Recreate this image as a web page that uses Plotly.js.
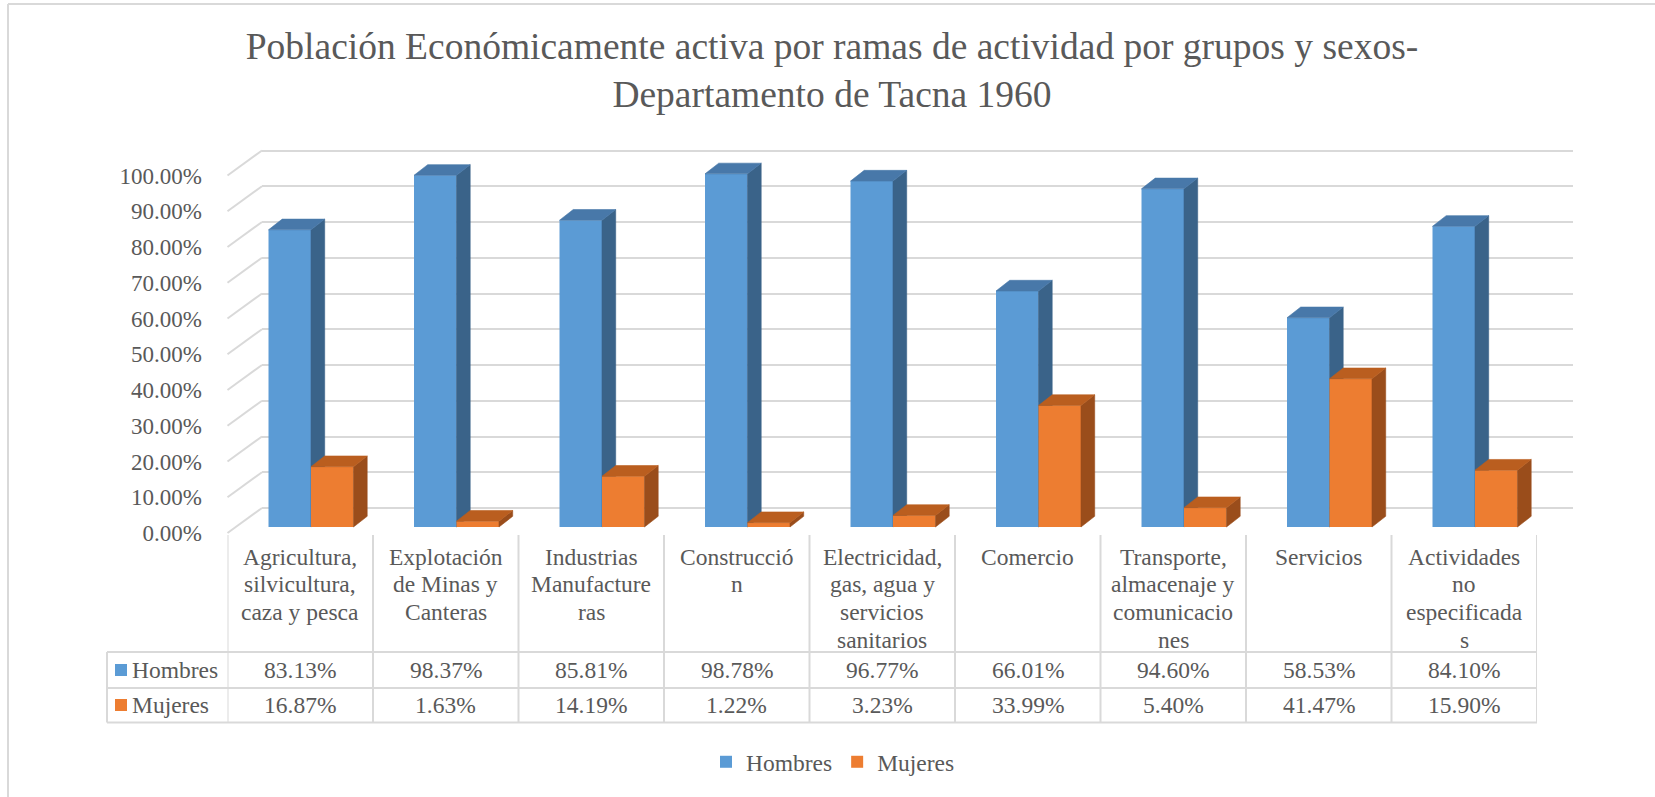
<!DOCTYPE html>
<html>
<head>
<meta charset="utf-8">
<script src="https://cdn.plot.ly/plotly-3.0.1.min.js"></script>
<style>
  html, body { margin: 0; padding: 0; background: #ffffff; }
  #chart { width: 1655px; height: 797px; }
</style>
</head>
<body>
<div id="chart"></div>
<script>
// ---------------- data ----------------
const categoryLines = [
  ["Agricultura,", "silvicultura,", "caza y pesca"],
  ["Explotación", "de Minas y", "Canteras"],
  ["Industrias", "Manufacture", "ras"],
  ["Construcció", "n"],
  ["Electricidad,", "gas, agua y", "servicios", "sanitarios"],
  ["Comercio"],
  ["Transporte,", "almacenaje y", "comunicacio", "nes"],
  ["Servicios"],
  ["Actividades", "no", "especificada", "s"]
];
const hombres = [83.13, 98.37, 85.81, 98.78, 96.77, 66.01, 94.60, 58.53, 84.10];
const mujeres = [16.87, 1.63, 14.19, 1.22, 3.23, 33.99, 5.40, 41.47, 15.90];
const seriesNames = ["Hombres", "Mujeres"];
const tickValues = [0, 10, 20, 30, 40, 50, 60, 70, 80, 90, 100];
const tickLabels = ["0.00%", "10.00%", "20.00%", "30.00%", "40.00%", "50.00%",
                    "60.00%", "70.00%", "80.00%", "90.00%", "100.00%"];
const titleLines = ["Población Económicamente activa por ramas de actividad por grupos y sexos-",
                    "Departamento de Tacna 1960"];

// ---------------- styling / geometry ----------------
const W = 1655, H = 797;
const FONT = "Liberation Serif";
const TXT = "#595959";
const GRID = "#d9d9d9";
const BLUE = "#5b9bd5", BLUE_TOP = "#4878a9", BLUE_SIDE = "#3a6389";
const ORANGE = "#ed7d31", ORANGE_TOP = "#ba5e1f", ORANGE_SIDE = "#9a4d1b";
const FS = 23.5;

const K = 3.575;           // px per percentage point
const C = 145.5;           // px per category
const yBar0 = 527, yWall0 = 508, yFront0 = 533;
const xBar0 = 311;         // pixel of category 0 (pair center)
const xFront = 227.5, xWall = 262, xWallEnd = 1573;
const tableRight = 1537;
const barW = 0.292;
const depthX = 13.7 / C, depthY = 10.7 / K;

const px2x = p => p / W;
const px2y = p => 1 - p / H;

const idx = hombres.map((_, i) => i);

// bar axes range/domain
const bxr = [-0.7, 8.9];
const byr = [-2, 110];
const bxDom = [px2x(xBar0 + C * bxr[0]), px2x(xBar0 + C * bxr[1])];
const byDom = [px2y(yBar0 - K * byr[0]), px2y(yBar0 - K * byr[1])];

// wall grid axis
const gyr = [-1, 101];
const gyDom = [px2y(yWall0 - K * gyr[0]), px2y(yWall0 - K * gyr[1])];
// front plane axis (tick labels)
const fyDom = [px2y(yFront0 - K * gyr[0]), px2y(yFront0 - K * gyr[1])];

function faces(values, left, right) {
  const top = {x: [], y: []}, side = {x: [], y: []};
  values.forEach((v, i) => {
    const xl = i + left, xr = i + right;
    top.x.push(xl, xr, xr + depthX, xl + depthX, xl, null);
    top.y.push(v, v, v + depthY, v + depthY, v, null);
    side.x.push(xr, xr, xr + depthX, xr + depthX, xr, null);
    side.y.push(0, v, v + depthY, depthY, 0, null);
  });
  return {top, side};
}
const fH = faces(hombres, -barW, 0);
const fM = faces(mujeres, 0, barW);

function faceTrace(f, color, xa, ya) {
  return {type: "scatter", mode: "lines", x: f.x, y: f.y, fill: "toself",
          fillcolor: color, line: {color: color, width: 0.6},
          xaxis: xa, yaxis: ya, hoverinfo: "skip", showlegend: false};
}

const traces = [
  // grid subplot dummy
  {type: "scatter", x: [0.5], y: [50], mode: "markers", marker: {opacity: 0},
   xaxis: "x", yaxis: "y", hoverinfo: "skip", showlegend: false},
  // Hombres
  {type: "bar", name: seriesNames[0], x: idx, y: hombres, width: barW, offset: -barW,
   marker: {color: BLUE, line: {width: 0}}, xaxis: "x2", yaxis: "y2",
   hovertemplate: "%{y:.2f}%<extra>Hombres</extra>"},
  faceTrace(fH.side, BLUE_SIDE, "x2", "y2"),
  faceTrace(fH.top, BLUE_TOP, "x2", "y2"),
  // labels subplot dummy
  {type: "scatter", x: [0], y: [0], mode: "markers", marker: {opacity: 0},
   xaxis: "x3", yaxis: "y3", hoverinfo: "skip", showlegend: false},
  // Mujeres
  {type: "bar", name: seriesNames[1], x: idx, y: mujeres, width: barW, offset: 0,
   marker: {color: ORANGE, line: {width: 0}}, xaxis: "x4", yaxis: "y4",
   hovertemplate: "%{y:.2f}%<extra>Mujeres</extra>"},
  faceTrace(fM.side, ORANGE_SIDE, "x4", "y4"),
  faceTrace(fM.top, ORANGE_TOP, "x4", "y4")
];

// ---------------- shapes ----------------
const shapes = [];
// outer border (top & left visible)
shapes.push({type: "line", xref: "paper", yref: "paper", x0: px2x(8), x1: 1, y0: px2y(4), y1: px2y(4),
             line: {color: GRID, width: 2}});
shapes.push({type: "line", xref: "paper", yref: "paper", x0: px2x(8), x1: px2x(8), y0: px2y(4), y1: 0,
             line: {color: GRID, width: 2}});
// side-wall diagonals
tickValues.forEach(v => {
  shapes.push({type: "line", xref: "paper", yref: "paper",
               x0: px2x(xFront), y0: px2y(yFront0 - K * v),
               x1: px2x(xWall), y1: px2y(yWall0 - K * v),
               line: {color: GRID, width: 2}});
});
// table grid
const rowTop = 652, rowMid = 688, rowBot = 722.5, colTop = 535, tableLeft = 107;
[rowTop, rowMid, rowBot].forEach(y => {
  shapes.push({type: "line", xref: "paper", yref: "paper", x0: px2x(tableLeft), x1: px2x(tableRight),
               y0: px2y(y), y1: px2y(y), line: {color: GRID, width: 2}});
});
shapes.push({type: "line", xref: "paper", yref: "paper", x0: px2x(tableLeft), x1: px2x(tableLeft),
             y0: px2y(rowTop), y1: px2y(rowBot), line: {color: GRID, width: 2}});
for (let k = 0; k <= categoryLines.length; k++) {
  shapes.push({type: "line", xref: "x3", yref: "paper", x0: k - 0.5, x1: k - 0.5,
               y0: px2y(colTop), y1: px2y(rowBot), line: {color: GRID, width: 2}});
}
// legend keys in the table
[[BLUE, 664], [ORANGE, 699]].forEach(([col, y]) => {
  shapes.push({type: "rect", xref: "paper", yref: "paper", x0: px2x(115), x1: px2x(127),
               y0: px2y(y + 12), y1: px2y(y), fillcolor: col, line: {width: 0}});
});

// ---------------- annotations ----------------
const annotations = [];
const font = {family: FONT, size: FS, color: TXT};
categoryLines.forEach((lines, i) => {
  lines.forEach((t, k) => {
    annotations.push({xref: "x3", yref: "paper", x: i, y: px2y(556.5 + 27.8 * k),
                      xanchor: "center", yanchor: "middle", text: t, showarrow: false, font: font});
  });
});
const rowY = [670, 705];
[hombres, mujeres].forEach((arr, r) => {
  arr.forEach((v, i) => {
    annotations.push({xref: "x3", yref: "paper", x: i, y: px2y(rowY[r]),
                      xanchor: "center", yanchor: "middle", text: v.toFixed(2) + "%",
                      showarrow: false, font: font});
  });
  annotations.push({xref: "paper", yref: "paper", x: px2x(130), y: px2y(rowY[r]),
                    xanchor: "left", yanchor: "middle", text: seriesNames[r],
                    showarrow: false, font: font});
});

const hidden = {visible: true, showticklabels: false, showgrid: false, zeroline: false,
                showline: false, ticks: "", fixedrange: true};

const layout = {
  width: W, height: H,
  margin: {l: 0, r: 0, t: 0, b: 0, pad: 0},
  paper_bgcolor: "#ffffff",
  plot_bgcolor: "rgba(0,0,0,0)",
  font: {family: FONT, color: TXT, size: FS},
  title: {text: titleLines.join("<br>"), x: px2x(832), xanchor: "center",
          y: 1 - 58.5 / H, yanchor: "middle", font: {family: FONT, size: 37.5, color: TXT}},
  barmode: "overlay",
  showlegend: true,
  legend: {orientation: "h", x: px2x(833), xanchor: "center", y: px2y(762), yanchor: "middle",
           font: {family: FONT, size: FS, color: TXT}, bgcolor: "rgba(0,0,0,0)", itemwidth: 30},
  xaxis: Object.assign({}, hidden, {domain: [px2x(xWall), px2x(xWallEnd)], range: [0, 1], anchor: "y"}),
  yaxis: Object.assign({}, hidden, {domain: gyDom, range: gyr, anchor: "x", showgrid: true,
                                    gridcolor: GRID, gridwidth: 2, tickmode: "array", tickvals: tickValues}),
  xaxis2: Object.assign({}, hidden, {domain: bxDom, range: bxr, anchor: "y2"}),
  yaxis2: Object.assign({}, hidden, {domain: byDom, range: byr, anchor: "x2"}),
  xaxis3: Object.assign({}, hidden, {domain: [px2x(xFront), px2x(tableRight)], range: [-0.5, 8.5], anchor: "y3"}),
  yaxis3: Object.assign({}, hidden, {domain: fyDom, range: gyr, anchor: "x3", showticklabels: true,
                                     tickmode: "array", tickvals: tickValues, ticktext: tickLabels,
                                     ticks: "outside", ticklen: 0, ticklabelstandoff: 20,
                                     tickfont: {family: FONT, size: 23, color: TXT}}),
  xaxis4: Object.assign({}, hidden, {domain: bxDom, range: bxr, anchor: "y4"}),
  yaxis4: Object.assign({}, hidden, {domain: byDom, range: byr, anchor: "x4"}),
  shapes: shapes,
  annotations: annotations
};

Plotly.newPlot("chart", traces, layout, {displayModeBar: false, responsive: false});
</script>
</body>
</html>
